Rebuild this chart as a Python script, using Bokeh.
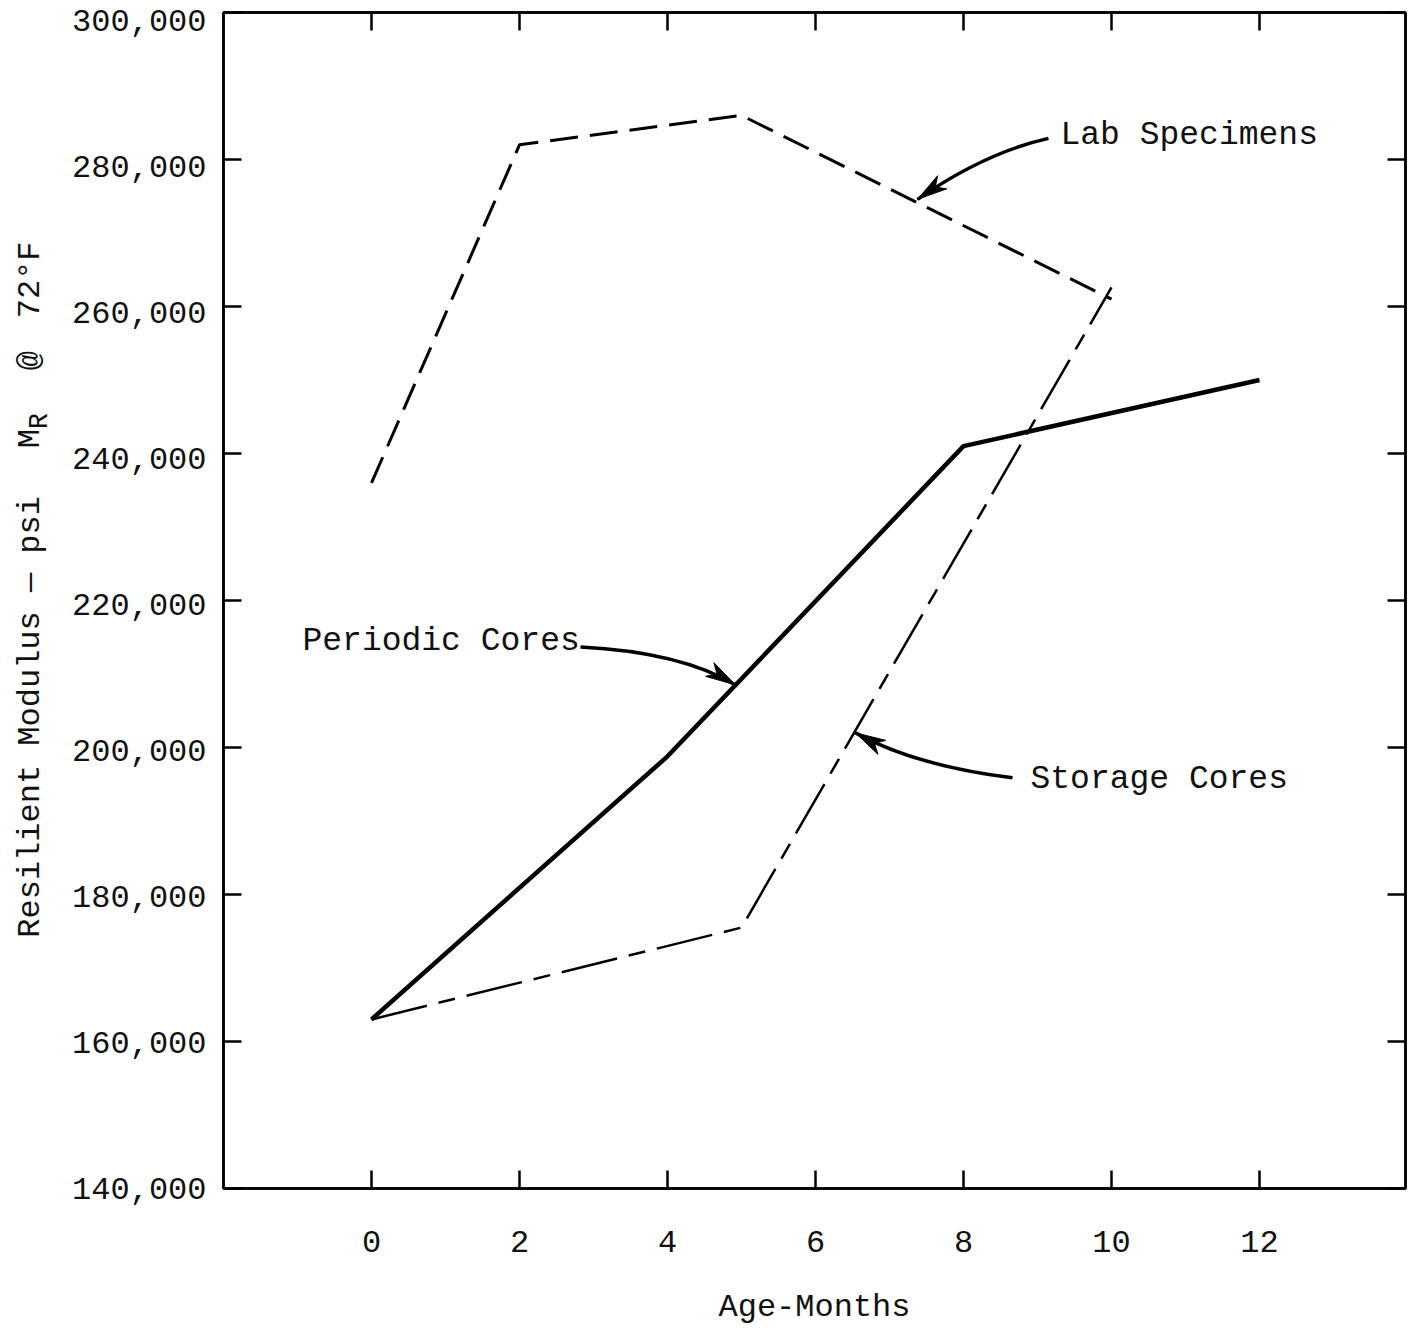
from bokeh.plotting import figure
from bokeh.layouts import row
from bokeh.models import Range1d, LinearAxis, FixedTicker, NumeralTickFormatter, Label
from bokeh.embed import file_html
from bokeh.resources import INLINE
import math

FONT = "Liberation Mono"

# ---- data ----
months_lab = [0, 2, 5, 10]
mr_lab = [236000, 282000, 286000, 261000]

months_periodic = [0, 4, 8, 12]
mr_periodic = [163000, 198800, 241000, 250000]

months_storage = [0, 5, 10]
mr_storage = [163000, 175500, 262600]

x_ticks = [0, 2, 4, 6, 8, 10, 12]
y_ticks = [140000, 160000, 180000, 200000, 220000, 240000, 260000, 280000, 300000]

# ---- layout (page pixels) ----
TOTAL_W, H = 1408, 1328
YW = 60                       # width of the strip holding the rotated y title
FL, FR, FT, FB = 223, 1405, 12, 1189   # frame edges on the page
X0 = -2.0
SX = 74.0                     # px per month
X1 = X0 + (FR - FL) / SX
Y0, Y1 = 140000, 300000
FH = FB - FT
SY = FH / (Y1 - Y0)
LABEL_DROP = 8                # y tick labels sit a little below their ticks (at the top)

W = TOTAL_W - YW
BL = FL - YW
BR = TOTAL_W - FR
BT = FT
BB = H - FB


def px2x(px):
    return X0 + (px - FL) / SX


def px2y(py):
    return Y1 - (py - FT) / SY


p = figure(width=W, height=H, x_range=Range1d(X0, X1), y_range=Range1d(Y0, Y1),
           output_backend="svg", toolbar_location=None,
           min_border_left=BL, min_border_right=BR, min_border_top=BT, min_border_bottom=BB,
           x_axis_type=None, y_axis_type=None)
# range used only to place the y tick labels slightly lower than their ticks
p.extra_y_ranges = {"lbl": Range1d(Y0, Y0 + (Y1 - Y0) * FH / (FH - LABEL_DROP))}
p.background_fill_color = "white"
p.border_fill_color = "white"
p.outline_line_color = "black"
p.outline_line_width = 2.5


def make_axis(show_labels, ticks, fmt=None, **kw):
    ax = LinearAxis(ticker=FixedTicker(ticks=ticks, minor_ticks=[]), **kw)
    ax.major_tick_in = 18
    ax.major_tick_out = 0
    ax.minor_tick_in = 0
    ax.minor_tick_out = 0
    ax.major_tick_line_width = 2.5
    ax.major_tick_line_color = "black"
    ax.axis_line_width = 2.5
    ax.axis_line_color = "black"
    if fmt is not None:
        ax.formatter = fmt
    if show_labels:
        ax.major_label_text_font = FONT
        ax.major_label_text_font_size = "32px"
        ax.major_label_text_color = "#111111"
    else:
        ax.major_label_text_font_size = "1px"
        ax.major_label_text_color = None
        ax.major_label_standoff = 0
    return ax


xb = make_axis(True, x_ticks)
xb.major_label_standoff = 42
xb.axis_label = "Age-Months"
xb.axis_label_text_font = FONT
xb.axis_label_text_font_size = "32px"
xb.axis_label_text_font_style = "normal"
xb.axis_label_text_color = "#111111"
xb.axis_label_standoff = 34
p.add_layout(xb, "below")
p.add_layout(make_axis(False, x_ticks), "above")

p.add_layout(make_axis(False, y_ticks), "left")
ylab = make_axis(True, y_ticks, NumeralTickFormatter(format="0,0"), y_range_name="lbl")
ylab.major_tick_line_color = None
ylab.axis_line_color = None
ylab.major_tick_in = 0
ylab.major_label_standoff = 17
p.add_layout(ylab, "left")
p.add_layout(make_axis(False, y_ticks), "right")

# ---- series ----
p.line(months_lab, mr_lab, line_color="black", line_width=3, line_dash="28 12")
p.line(months_periodic, mr_periodic, line_color="black", line_width=4.5, line_join="round")
p.line(months_storage, mr_storage, line_color="black", line_width=2.5, line_dash="57 12 17 12")

# ---- annotations: curved arrows (page pixel positions) ----
arrows = [
    # start, control, tip
    ((1048, 138), (985, 152), (917, 199)),
    ((580, 647), (680, 652), (735, 685)),
    ((1012, 778), (915, 766), (855, 733)),
]
for (s, c, t) in arrows:
    p.quadratic(x0=[px2x(s[0])], y0=[px2y(s[1])], x1=[px2x(t[0])], y1=[px2y(t[1])],
                cx=[px2x(c[0])], cy=[px2y(c[1])], line_color="black", line_width=3.5)
    dx, dy = t[0] - c[0], t[1] - c[1]
    L = math.hypot(dx, dy)
    ux, uy = dx / L, dy / L
    nx, ny = -uy, ux
    hl, hw = 30, 8
    bx, by = t[0] - ux * hl, t[1] - uy * hl
    pts = [(t[0], t[1]), (bx + nx * hw, by + ny * hw), (t[0] - ux * hl * 0.72, t[1] - uy * hl * 0.72),
           (bx - nx * hw, by - ny * hw)]
    p.patch([px2x(a) for a, b in pts], [px2y(b) for a, b in pts], fill_color="black",
            line_color="black", line_width=1)

labels = [
    ("Lab Specimens", 1060, 135),
    ("Periodic Cores", 302, 642),
    ("Storage Cores", 1030, 780),
]
for txt, lx, ly in labels:
    p.add_layout(Label(x=px2x(lx), y=px2y(ly), text=txt, text_font=FONT, text_font_size="33px",
                       text_align="left", text_baseline="middle", text_color="#111111"))

# ---- strip with the rotated y title (same vertical scale as the main frame) ----
yt = figure(width=YW, height=H, x_range=Range1d(0, YW), y_range=Range1d(Y0, Y1),
            output_backend="svg", toolbar_location=None, min_border=0,
            x_axis_type=None, y_axis_type=None)
yt.outline_line_color = None
yt.background_fill_color = "white"
yt.border_fill_color = "white"

title_parts = [
    # text, x (page px), start y (page px), font size
    ("Resilient Modulus \u2014 psi", 30, 938, "32px"),
    ("M", 30, 448, "32px"),
    ("R", 39, 429, "27px"),
    ("@", 30, 370, "32px"),
    ("72\u00b0F", 30, 318, "32px"),
]
for txt, tx, ty, fs in title_parts:
    yt.add_layout(Label(x=tx, y=px2y(ty), text=txt, text_font=FONT, text_font_size=fs,
                        text_align="left", text_baseline="middle", angle=math.pi / 2,
                        text_color="#111111"))

layout = row(yt, p, spacing=0)
open("out.html", "w").write(file_html(layout, INLINE))
